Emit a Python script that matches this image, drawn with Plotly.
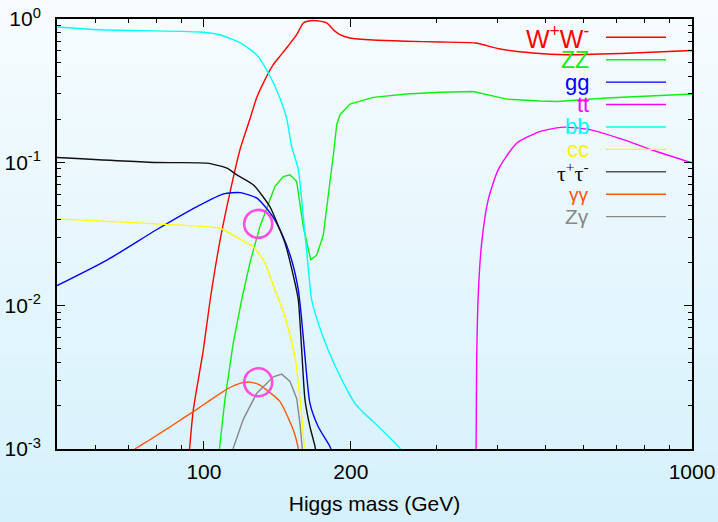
import math
import plotly.graph_objects as go

# ---------------- data (Higgs mass in GeV, branching ratio) ----------------
ww_mass = [93.2, 95.1, 99.7, 103.0, 108.0, 113.0, 118.5, 124.1, 128.2, 133.0, 138.7, 145.0,
           154.9, 159.8, 163.0, 170.2, 178.4, 185.0, 190.0, 199.2, 222.3, 260.0, 304.6, 360.0,
           404.3, 472.0, 553.6, 758.0, 1000.0]
ww_br = [0.0009, 0.00187, 0.0049, 0.011, 0.029, 0.061, 0.122, 0.198, 0.281, 0.37, 0.48, 0.58,
         0.777, 0.938, 0.965, 0.973, 0.938, 0.83, 0.777, 0.737, 0.713, 0.70, 0.691, 0.68,
         0.617, 0.579, 0.563, 0.579, 0.603]

zz_mass = [107.2, 110.4, 114.8, 119.5, 124.2, 130.2, 136.5, 139.8, 145.4, 150.1, 154.9, 159.8,
           165.5, 170.2, 175.6, 178.4, 181.2, 184.1, 187.1, 190.0, 199.2, 222.3, 260.2, 304.6,
           356.4, 417.2, 488.0, 528.3, 668.8, 1000.0]
zz_br = [0.0009, 0.0022, 0.00546, 0.011, 0.0198, 0.0356, 0.0547, 0.0678, 0.0796, 0.0818, 0.0734,
         0.0356, 0.0209, 0.0225, 0.031, 0.0466, 0.071, 0.112, 0.183, 0.215, 0.255, 0.284, 0.300,
         0.308, 0.312, 0.276, 0.268, 0.266, 0.281, 0.300]

gg_mass = [50.0, 63.3, 80.1, 96.8, 109.7, 118.7, 128.4, 137.6, 144.3, 151.2, 156.1, 158.6,
           161.1, 164.9, 171.5, 181.2, 184.0]
gg_br = [0.0138, 0.0208, 0.0340, 0.0491, 0.0603, 0.0615, 0.0562, 0.0430, 0.0320, 0.0209, 0.01287,
         0.00795, 0.00441, 0.00208, 0.00143, 0.00104, 0.0009]

tt_mass = [360.6, 361.5, 362.1, 364.9, 370.7, 382.4, 401.0, 437.3, 488.0, 544.9, 618.0, 723.1,
           846.6, 1000.0]
tt_br = [0.0005, 0.0018, 0.0042, 0.0122, 0.0273, 0.055, 0.089, 0.136, 0.164, 0.176, 0.169, 0.144,
         0.119, 0.0992]

bb_mass = [50.0, 61.2, 98.1, 107.8, 114.8, 118.5, 128.2, 135.5, 143.1, 147.7, 151.2, 156.1, 159.8,
           163.5, 166.2, 171.5, 179.7, 191.5, 203.9, 212.1, 224.1, 252.2, 256.0]
bb_br = [0.88, 0.842, 0.811, 0.777, 0.717, 0.685, 0.563, 0.420, 0.281, 0.2035, 0.13, 0.089, 0.0418,
         0.0187, 0.0110, 0.00754, 0.00491, 0.00306, 0.00208, 0.0018, 0.00151, 0.00101, 0.00095]

cc_mass = [50.0, 80.1, 101.4, 107.8, 111.5, 122.5, 126.2, 133.4, 139.8, 146.6, 153.7, 156.1,
           158.6, 160.5, 161.0]
cc_br = [0.0403, 0.0372, 0.0356, 0.0347, 0.0329, 0.0273, 0.0258, 0.0198, 0.01287, 0.00838,
         0.00441, 0.00287, 0.00168, 0.00104, 0.0009]

tau_mass = [50.0, 80.1, 101.4, 111.5, 116.8, 126.2, 136.5, 143.1, 146.6, 153.7, 156.1, 158.6,
            161.1, 164.9, 168.9, 170.0]
tau_br = [0.108, 0.0997, 0.0987, 0.0911, 0.0818, 0.0697, 0.0491, 0.0338, 0.0273, 0.01433,
          0.01096, 0.00491, 0.00220, 0.00143, 0.00104, 0.0009]

aa_mass = [70.5, 72.2, 77.5, 85.3, 96.0, 111.3, 118.5, 124.2, 130.0, 134.4, 143.1, 152.4, 156.1,
           157.0]
aa_br = [0.00095, 0.001, 0.00116, 0.00143, 0.00186, 0.00261, 0.00287, 0.00293, 0.0028, 0.00258,
         0.00215, 0.00136, 0.00101, 0.0009]

za_mass = [114.5, 114.8, 120.4, 128.2, 138.7, 144.3, 150.1, 154.9, 157.3, 159.1, 159.5]
za_br = [0.0009, 0.00101, 0.00161, 0.00244, 0.00319, 0.00333, 0.00296, 0.00225, 0.00151,
         0.00104, 0.0009]

series_names = ["W<sup>+</sup>W<sup>-</sup>", "ZZ", "gg", "tt", "bb", "cc",
                "τ<sup>+</sup>τ<sup>-</sup>", "γγ", "Zγ"]
series_colors = ["#ff0000", "#11ee11", "#0000ff", "#ff00ff", "#00ffff", "#ffff00",
                 "#111111", "#ff5511", "#888888"]
series_mass = [ww_mass, zz_mass, gg_mass, tt_mass, bb_mass, cc_mass, tau_mass, aa_mass, za_mass]
series_br = [ww_br, zz_br, gg_br, tt_br, bb_br, cc_br, tau_br, aa_br, za_br]

band_mass = [123.2, 135.0]
circle_mass = [129.2, 129.2]
circle_br = [0.0372, 0.00292]

x_range = [50, 1000]
y_range = [0.001, 1]
x_ticks = [100, 200, 1000]
x_minor = [60, 70, 80, 90, 300, 400, 500, 600, 700, 800, 900]
y_ticks = [0.001, 0.01, 0.1, 1]
y_ticktext = ["10<sup>-3</sup>", "10<sup>-2</sup>", "10<sup>-1</sup>", "10<sup>0</sup>"]
y_minor = [k * 10 ** e for e in (-3, -2, -1) for k in range(2, 10)]

# ---------------- geometry (pixels) ----------------
W, H = 718, 522
X0, X1, Y0, Y1 = 57, 692, 19, 449   # plot area
PW, PH = X1 - X0, Y1 - Y0
ML, MT = X0, Y0
MR, MB = W - X1, H - Y1


def px(p):
    return (p - X0) / PW


def py(p):
    return (Y1 - p) / PH


fig = go.Figure()

linear_lines = {"ZZ", "Zγ"}
for name, col, xs, ys in zip(series_names, series_colors, series_mass, series_br):
    fig.add_trace(go.Scatter(
        x=xs, y=ys, mode="lines", name=name, showlegend=False,
        line=dict(color=col, width=1.4,
                  shape="linear" if name in linear_lines else "spline",
                  smoothing=0.6),
        hoverinfo="skip"))

# highlight circles (drawn on the overlay axes, which carry the minor ticks)
fig.add_trace(go.Scatter(
    x=circle_mass, y=circle_br, mode="markers", showlegend=False, hoverinfo="skip",
    xaxis="x2", yaxis="y2",
    marker=dict(symbol="circle-open", size=28, color="#ff4fe0",
                line=dict(width=2.6, color="#ff4fe0"))))

shapes = []
# vertical gradient background
N = 60
top_c = (247, 252, 254)
bot_c = (213, 241, 252)
for i in range(N):
    p0 = i * H / N
    p1 = (i + 1) * H / N + 0.6
    t = (i + 0.5) / N
    c = tuple(round(top_c[k] + (bot_c[k] - top_c[k]) * t) for k in range(3))
    shapes.append(dict(type="rect", xref="paper", yref="paper", layer="below",
                       x0=px(-10), x1=px(W + 10), y0=py(p1), y1=py(p0 - (1 if i == 0 else 0)),
                       fillcolor="rgb(%d,%d,%d)" % c, line=dict(width=0)))
# highlighted mass band
shapes.append(dict(type="rect", xref="x", yref="paper", layer="below",
                   x0=math.log10(band_mass[0]), x1=math.log10(band_mass[1]), y0=0, y1=1,
                   fillcolor="rgba(226,170,255,0.28)", line=dict(width=0)))

# custom legend: text then line sample
annotations = []
row0, step = 37.3, 22.42
sizes = [25, 23, 22, 22, 22, 22, 22, 19, 21]
fams = ["Liberation Sans"] * 6 + ["Liberation Serif", "Liberation Sans", "Liberation Sans"]
for i, (name, col) in enumerate(zip(series_names, series_colors)):
    yp = py(row0 + i * step)
    tcol = {"#ffff00": "#f4f400"}.get(col, col)
    annotations.append(dict(xref="paper", yref="paper", x=px(591), y=yp, text=name,
                            showarrow=False, xanchor="right", yanchor="middle",
                            font=dict(size=sizes[i], color=tcol, family=fams[i])))
    lcol = {"#111111": "#555555"}.get(col, col)
    shapes.append(dict(type="line", xref="paper", yref="paper", x0=px(606), x1=px(666),
                       y0=yp, y1=yp, line=dict(color=lcol, width=1.4)))

major_common = dict(showline=True, linecolor="black", linewidth=1.8, mirror="allticks",
                    showgrid=False, zeroline=False, ticks="inside", ticklen=8, tickwidth=1.3,
                    tickcolor="black", automargin=False, type="log", ticklabeloverflow="allow")
minor_common = dict(showline=False, mirror="allticks", showgrid=False, zeroline=False,
                    ticks="inside", ticklen=4, tickwidth=1.2, tickcolor="black",
                    showticklabels=False, automargin=False, type="log", tickmode="array")

xr = [math.log10(x_range[0]), math.log10(x_range[1])]
yr = [math.log10(y_range[0]), math.log10(y_range[1])]

fig.update_layout(
    width=W, height=H, margin=dict(l=ML, r=MR, t=MT, b=MB, autoexpand=False),
    paper_bgcolor="rgba(0,0,0,0)", plot_bgcolor="rgba(0,0,0,0)",
    shapes=shapes, annotations=annotations,
    font=dict(family="Liberation Sans", color="black"),
    xaxis=dict(range=xr, tickmode="array", tickvals=x_ticks,
               ticktext=[str(v) for v in x_ticks],
               tickfont=dict(size=21, color="black"), ticklabelstandoff=3,
               title=dict(text="Higgs mass (GeV)", font=dict(size=21, color="black"), standoff=14),
               **major_common),
    yaxis=dict(range=yr, tickmode="array", tickvals=y_ticks, ticktext=y_ticktext,
               tickfont=dict(size=21, color="black"), ticklabelstandoff=10,
               **major_common),
    xaxis2=dict(range=xr, overlaying="x", anchor="y2", side="bottom", tickvals=x_minor,
                **minor_common),
    yaxis2=dict(range=yr, overlaying="y", anchor="x2", side="left", tickvals=y_minor,
                **minor_common),
)

# remove the default page margin so the figure sits at the window's top-left corner
fig.write_html("out.html", config={"displayModeBar": False},
               post_script="document.body.style.margin='0';document.body.style.padding='0';")
